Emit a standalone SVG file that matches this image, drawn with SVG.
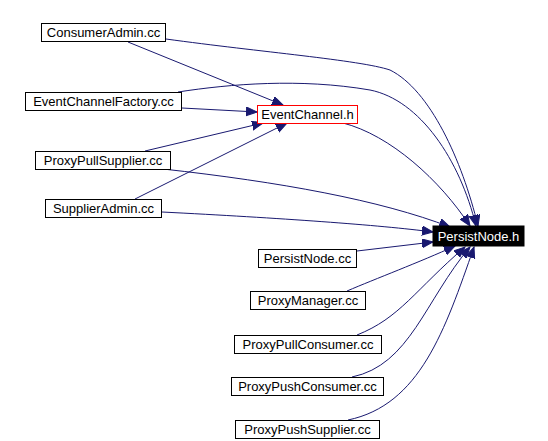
<svg xmlns="http://www.w3.org/2000/svg" width="548" height="441" viewBox="0 0 548 441">
<style>
.n rect{fill:#fff;stroke:#000;stroke-width:1}
.n text{font-family:"Liberation Sans",Arial,sans-serif;font-size:13px;text-anchor:middle;fill:#000}
#e path{fill:none;stroke:#191970;stroke-width:1;marker-end:url(#a)}
</style>
<defs>
<marker id="a" markerUnits="userSpaceOnUse" markerWidth="12" markerHeight="10" refX="11" refY="4.5" orient="auto">
<path d="M0,0 L11,4.5 L0,9 Z" fill="#191970" stroke="#191970"/>
</marker>
</defs>
<rect width="548" height="441" fill="#fff"/>
<g id="e">
<path d="M128,42 L283,105"/>
<path d="M166,39 C260,52 360,60 390,70 C430,90 462,160 478,226"/>
<path d="M182,108 L257,112"/>
<path d="M178,92 C230,84 300,78 370,90 C420,100 460,160 476,226"/>
<path d="M145,151 L263,123"/>
<path d="M163,169 C280,182 380,200 450,227"/>
<path d="M135,199 L287,123"/>
<path d="M162,212 C280,218 380,225 433,232"/>
<path d="M343,123 C390,135 440,180 470,226"/>
<path d="M357,251 L433,242"/>
<path d="M347,291 C375,279 420,262 455,246"/>
<path d="M357,335 C400,318 415,290 465,247"/>
<path d="M352,377 C410,365 425,300 470,247"/>
<path d="M348,420 C420,405 445,330 474,247"/>
</g>
<g id="ConsumerAdmin" class="n"><rect x="41.5" y="23.5" width="124" height="18"/><text x="103.5" y="37">ConsumerAdmin.cc</text></g>
<g id="EventChannelFactory" class="n"><rect x="25.5" y="92.5" width="156" height="18"/><text x="103.5" y="106">EventChannelFactory.cc</text></g>
<g id="ProxyPullSupplier" class="n"><rect x="35.5" y="151.5" width="135" height="18"/><text x="103" y="165">ProxyPullSupplier.cc</text></g>
<g id="SupplierAdmin" class="n"><rect x="45.5" y="199.5" width="116" height="18"/><text x="103.5" y="213">SupplierAdmin.cc</text></g>
<g id="EventChannel" class="n"><rect x="257.5" y="105.5" width="100" height="18" style="stroke:#f00"/><text x="307.5" y="119">EventChannel.h</text></g>
<g id="PersistNodeH" class="n"><rect x="433" y="226" width="91" height="20" style="fill:#000;stroke:#000"/><text x="478.5" y="241" style="fill:#fff">PersistNode.h</text></g>
<g id="PersistNodeCC" class="n"><rect x="258.5" y="249.5" width="98" height="18"/><text x="307.5" y="263">PersistNode.cc</text></g>
<g id="ProxyManager" class="n"><rect x="250.5" y="291.5" width="115" height="18"/><text x="308" y="305">ProxyManager.cc</text></g>
<g id="ProxyPullConsumer" class="n"><rect x="234.5" y="335.5" width="147" height="18"/><text x="308" y="349">ProxyPullConsumer.cc</text></g>
<g id="ProxyPushConsumer" class="n"><rect x="231.5" y="377.5" width="152" height="18"/><text x="307.5" y="391">ProxyPushConsumer.cc</text></g>
<g id="ProxyPushSupplier" class="n"><rect x="235.5" y="420.5" width="144" height="18"/><text x="307.5" y="434">ProxyPushSupplier.cc</text></g>
</svg>
